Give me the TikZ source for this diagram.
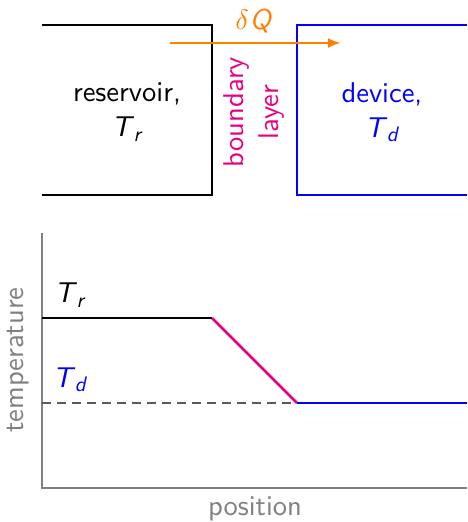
\documentclass[tikz,border=0pt]{standalone}
\usepackage{fontspec}
\setsansfont{lmsans10-regular.otf}[ItalicFont=lmsans10-oblique.otf, SlantedFont=lmsans10-oblique.otf, BoldFont=lmsans10-bold.otf]
\usepackage{graphicx}
\usetikzlibrary{arrows.meta}
\definecolor{myorange}{RGB}{255,128,0}
\definecolor{mymag}{RGB}{230,0,130}
\definecolor{myblue}{RGB}{0,0,255}
\definecolor{mygray}{RGB}{128,128,128}
\newcommand{\Tsub}[1]{\textsl{T}\kern-0.5pt\raisebox{-0.35ex}{\fontsize{21}{25}\selectfont\textsl{#1}}}
\tikzset{
  lbl/.style={font=\sffamily\fontsize{28.6}{35}\selectfont, inner sep=0pt, align=center},
  boxline/.style={line width=2.6pt},
  grline/.style={line width=2.6pt},
  axis/.style={line width=2.6pt, draw=mygray}
}
\begin{document}
\begin{tikzpicture}[x=1pt,y=-1pt]
\useasboundingbox (0,0) rectangle (467,522);
% top boxes
\draw[boxline] (42,25) -- (212,25) -- (212,195) -- (42,195);
\draw[boxline, myblue] (467,25) -- (297,25) -- (297,195) -- (467,195);
\node[lbl] (res) at (127,112) {reservoir,\\\Tsub{r}};
\node[lbl, text=myblue] (dev) at (382,112) {device,\\\Tsub{d}};
\node[lbl, text=mymag, rotate=90] (bl) at (254,112) {boundary\\layer};
\coordinate (qs) at (170,43);
\coordinate (qe) at (341,43);
\draw[line width=2.6pt, myorange, -{Latex[length=13pt,width=10pt]}] (qs) -- (qe);
\node[lbl, text=myorange] (dq) at (254,21) {\scalebox{2.8}{\fontsize{10}{12}\selectfont$\delta$}\kern1pt\textsl{Q}};
% graph
\coordinate (o) at (42,488);
\coordinate (ytop) at (42,233);
\coordinate (xend) at (467,488);
\draw[axis] (ytop) -- (o) -- (xend);
\coordinate (a) at (42,318);
\coordinate (b) at (212,318);
\coordinate (c) at (297,403);
\coordinate (d) at (467,403);
\coordinate (e) at (42,403);
\draw[grline] (a) -- (b);
\draw[grline, mymag] (b) -- (c);
\draw[grline, myblue] (c) -- (d);
\draw[line width=1.4pt, mygray!70!black, dash pattern=on 9pt off 6pt] (e) -- (c);
\node[lbl] (tr) at (70,295) {\Tsub{r}};
\node[lbl, text=myblue] (td) at (70,380) {\Tsub{d}};
\node[lbl, text=mygray, rotate=90] (temp) at (18,360) {temperature};
\node[lbl, text=mygray] (pos) at (255,509) {position};
\end{tikzpicture}
\end{document}
